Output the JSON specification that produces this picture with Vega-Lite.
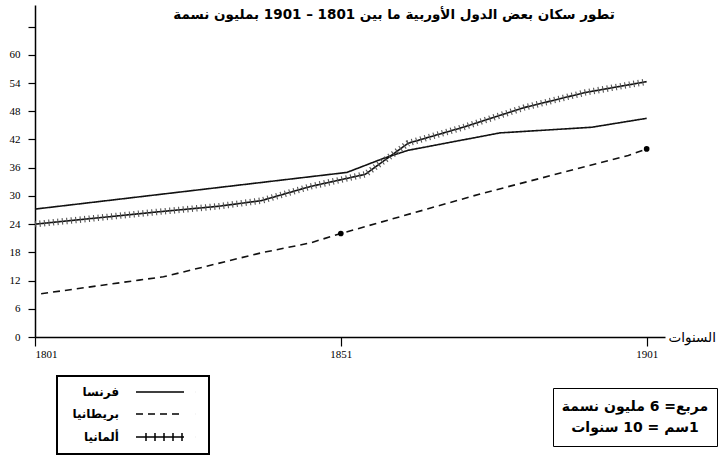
{
  "$schema": "https://vega.github.io/schema/vega-lite/v6.json",
  "width": 630,
  "height": 332,
  "autosize": {"type": "none"},
  "padding": {"left": 35, "top": 5, "right": 53, "bottom": 118},
  "background": "white",
  "title": {
    "text": "\u202bتطور سكان بعض الدول الأوربية ما بين 1801 – 1901 بمليون نسمة\u202c",
    "anchor": "middle",
    "frame": "group",
    "font": "DejaVu Sans",
    "fontSize": 13.5,
    "fontWeight": "bold",
    "color": "black",
    "dx": 44,
    "offset": -30,
    "baseline": "bottom"
  },
  "data": {
    "values": [
      {"country": "فرنسا", "year": 1801, "pop": 27.2},
      {"country": "فرنسا", "year": 1852, "pop": 35.0},
      {"country": "فرنسا", "year": 1858, "pop": 38.0},
      {"country": "فرنسا", "year": 1862, "pop": 39.7},
      {"country": "فرنسا", "year": 1877, "pop": 43.4},
      {"country": "فرنسا", "year": 1892, "pop": 44.6},
      {"country": "فرنسا", "year": 1901, "pop": 46.5},
      {"country": "بريطانيا", "year": 1802, "pop": 9.2},
      {"country": "بريطانيا", "year": 1818, "pop": 12.1},
      {"country": "بريطانيا", "year": 1822, "pop": 12.8},
      {"country": "بريطانيا", "year": 1838, "pop": 17.9},
      {"country": "بريطانيا", "year": 1846, "pop": 20.0},
      {"country": "بريطانيا", "year": 1851, "pop": 22.0},
      {"country": "بريطانيا", "year": 1874, "pop": 30.5},
      {"country": "بريطانيا", "year": 1898, "pop": 38.6},
      {"country": "بريطانيا", "year": 1901, "pop": 40.0},
      {"country": "ألمانيا", "year": 1801, "pop": 24.0},
      {"country": "ألمانيا", "year": 1811, "pop": 25.3},
      {"country": "ألمانيا", "year": 1821, "pop": 26.6},
      {"country": "ألمانيا", "year": 1831, "pop": 27.8},
      {"country": "ألمانيا", "year": 1838, "pop": 29.0},
      {"country": "ألمانيا", "year": 1846, "pop": 32.0},
      {"country": "ألمانيا", "year": 1855, "pop": 34.6},
      {"country": "ألمانيا", "year": 1862, "pop": 41.2},
      {"country": "ألمانيا", "year": 1871, "pop": 44.6},
      {"country": "ألمانيا", "year": 1881, "pop": 48.8},
      {"country": "ألمانيا", "year": 1891, "pop": 52.0},
      {"country": "ألمانيا", "year": 1901, "pop": 54.3}
    ]
  },
  "encoding": {
    "x": {
      "field": "year",
      "type": "quantitative",
      "scale": {"domain": [1801, 1904], "nice": false, "zero": false},
      "axis": {
        "values": [1801, 1851, 1901],
        "format": "d",
        "grid": false,
        "tickSize": 9,
        "labelPadding": 2,
        "labelFont": "Liberation Serif",
        "labelFontSize": 11,
        "title": "السنوات",
        "titleX": 633,
        "titleY": 0,
        "titleAlign": "left",
        "titleBaseline": "middle",
        "titleAngle": 0,
        "titleFont": "DejaVu Sans",
        "titleFontSize": 13.5,
        "titleFontWeight": "normal",
        "titleColor": "black"
      }
    },
    "y": {
      "field": "pop",
      "type": "quantitative",
      "scale": {"domain": [0, 70.6], "nice": false},
      "axis": {
        "values": [0, 6, 12, 18, 24, 30, 36, 42, 48, 54, 60, 66],
        "labelExpr": "datum.value > 60 ? '' : datum.label",
        "grid": false,
        "tickSize": 7,
        "labelPadding": 8,
        "labelFont": "Liberation Serif",
        "labelFontSize": 11,
        "title": null
      }
    }
  },
  "layer": [
    {
      "mark": {"type": "line", "color": "#111", "strokeWidth": 1.6},
      "encoding": {
        "strokeDash": {
          "field": "country",
          "type": "nominal",
          "scale": {
            "domain": ["فرنسا", "بريطانيا", "ألمانيا"],
            "range": [[1, 0], [7, 5], [1, 0]]
          },
          "legend": {
            "orient": "none",
            "legendX": 22,
            "legendY": 371,
            "title": null,
            "strokeColor": "black",
            "fillColor": "white",
            "padding": 10,
            "symbolSize": 100,
            "symbolStrokeWidth": 1.5,
            "symbolStrokeColor": "black",
            "symbolFillColor": "transparent",
            "symbolOffset": 87,
            "labelOffset": -47,
            "labelAlign": "right",
            "rowPadding": 10,
            "labelFont": "DejaVu Sans",
            "labelFontSize": 12,
            "labelFontWeight": "bold",
            "labelColor": "black",
            "encode": {
              "legend": {"update": {"strokeWidth": {"value": 2}}},
              "symbols": {
                "update": {
                  "shape": {
                    "signal": "datum.value === 'ألمانيا' ? 'M-4.8,0L4.8,0M-2.8,-0.8L-2.8,0.8M-1,-0.8L-1,0.8M0.8,-0.8L0.8,0.8M2.6,-0.8L2.6,0.8M4.4,-0.8L4.4,0.8M7,0L7.01,0' : 'M-4.8,0L4.8,0M7,0L7.01,0'"
                  }
                }
              }
            }
          }
        }
      }
    },
    {
      "transform": [{"filter": "datum.country === 'ألمانيا'"}],
      "mark": {"type": "line", "color": "#555", "strokeWidth": 6.5, "strokeDash": [1.1, 3.4], "strokeCap": "butt"},
      "encoding": {}
    },
    {
      "transform": [{"filter": "datum.country === 'بريطانيا' && (datum.year === 1851 || datum.year === 1901)"}],
      "mark": {"type": "point", "filled": true, "color": "black", "size": 32, "opacity": 1},
      "encoding": {
        "shape": {
          "datum": "\u202bمربع= 6 مليون نسمة\u202c",
          "type": "nominal",
          "scale": {
            "domain": ["\u202bمربع= 6 مليون نسمة\u202c", "\u202b1سم = 10 سنوات\u202c"],
            "range": ["circle", "circle"]
          },
          "legend": {
            "orient": "none",
            "legendX": 518,
            "legendY": 383,
            "title": null,
            "strokeColor": "black",
            "fillColor": "white",
            "padding": 8,
            "symbolOpacity": 0,
            "symbolSize": 0,
            "labelAlign": "center",
            "labelOffset": 60,
            "labelLimit": 300,
            "clipHeight": 21,
            "rowPadding": 0,
            "labelFont": "DejaVu Sans",
            "labelFontSize": 14,
            "labelFontWeight": "bold",
            "labelColor": "black",
            "encode": {"legend": {"update": {"strokeWidth": {"value": 2}}}}
          }
        }
      }
    }
  ],
  "config": {
    "view": {"stroke": null},
    "axis": {
      "domainColor": "black",
      "domainWidth": 1.5,
      "tickColor": "black",
      "tickWidth": 1.2,
      "labelColor": "black"
    }
  }
}
